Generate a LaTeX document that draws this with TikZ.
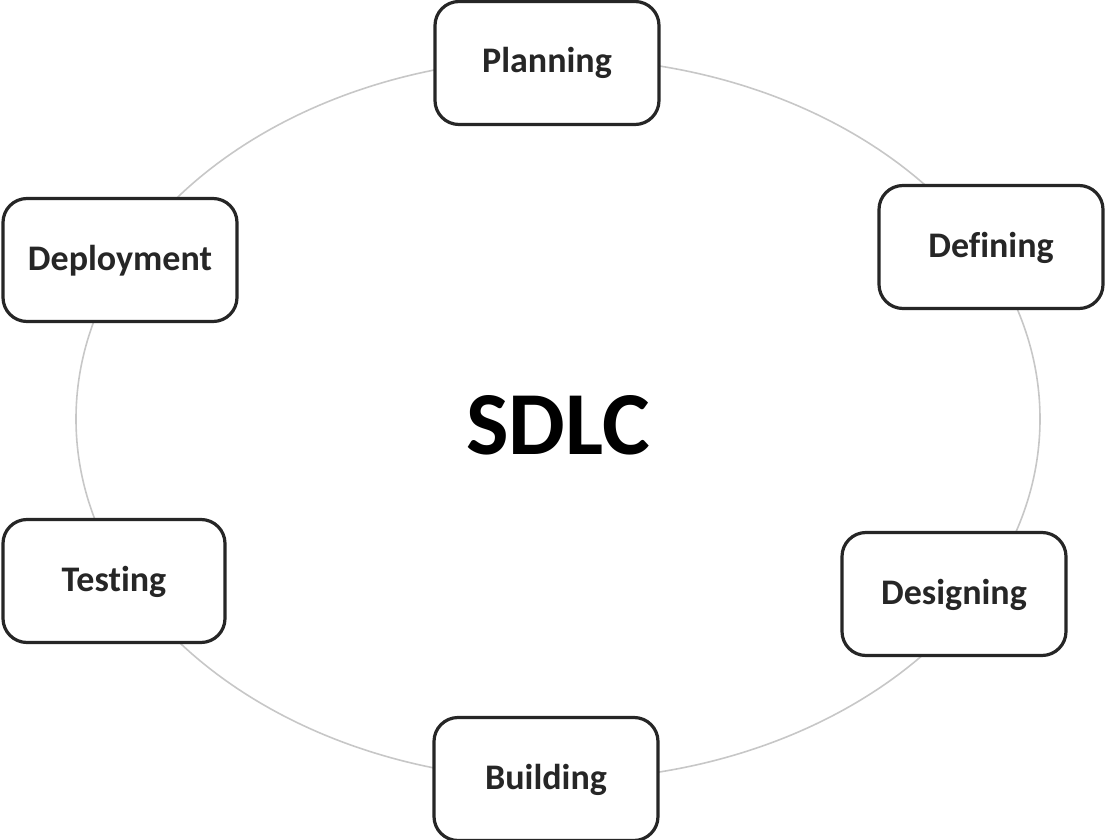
\documentclass[tikz,border=0pt]{standalone}
\usepackage{fontspec}
\setmainfont{Carlito}[Ligatures=NoCommon]
\begin{document}
\begin{tikzpicture}[x=1pt,y=-1pt,
  phase/.style={draw=black!85, line width=3.2pt, rounded corners=24pt, fill=white,
    minimum width=224pt, minimum height=123pt, font=\fontsize{36}{40}\selectfont\bfseries, text=black!85, inner sep=0pt,
    text depth=0pt, text height=20pt},
  ring/.style={draw=black!22, line width=1.6pt}]
\useasboundingbox (0,0) rectangle (1106,840);
\draw[ring] (558,419) ellipse [x radius=482pt, y radius=361pt];
\node[phase] (plan) at (547,63) {Planning};
\node[phase] (def) at (991,247) {Defining};
\node[phase, minimum width=234pt] (dep) at (120,260) {Deployment};
\node[phase, minimum width=222pt] (test) at (114,581) {Testing};
\node[phase] (des) at (954,594) {Designing};
\node[phase] (build) at (546,779) {Building};
\node[font=\fontsize{90}{96}\selectfont\bfseries] (sdlc) at (558,425) {SDLC};
\end{tikzpicture}
\end{document}
